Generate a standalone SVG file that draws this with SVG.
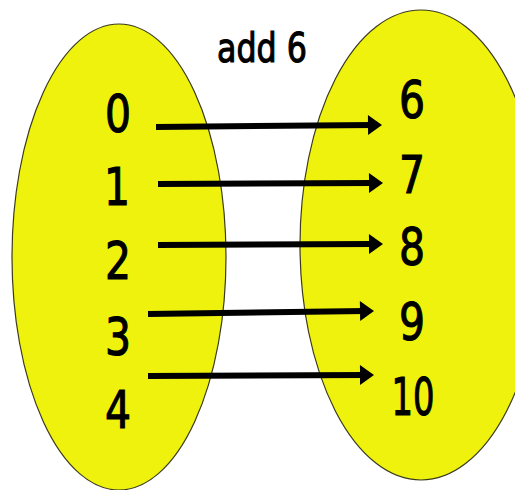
<svg xmlns="http://www.w3.org/2000/svg" width="515" height="490" viewBox="0 0 515 490">
<style>
.set{fill:#eff20c;stroke:#3a3a20;stroke-width:1.2}
.num{font-family:"DejaVu Sans",sans-serif;font-size:52px;fill:#000;stroke:#000;stroke-width:1.2;text-anchor:middle}
.title{font-family:"DejaVu Sans",sans-serif;font-size:40px;fill:#000;stroke:#000;stroke-width:1.2}
.arr{stroke:#000;stroke-width:6;fill:none;marker-end:url(#ah)}
</style>
<defs>
<marker id="ah" markerUnits="userSpaceOnUse" markerWidth="14" markerHeight="20" refX="5" refY="10" orient="auto" overflow="visible">
<path d="M0,0 L14,10 L0,20 z" fill="#000"/>
</marker>
</defs>
<rect width="515" height="490" fill="#fff"/>
<g id="domain">
<ellipse class="set" cx="119" cy="257" rx="107" ry="233"/>
</g>
<g id="range">
<ellipse class="set" cx="421" cy="245" rx="121" ry="235"/>
</g>
<g id="title"><text class="title" x="217" y="62" textLength="90" lengthAdjust="spacingAndGlyphs">add 6</text></g>
<g id="n0"><text class="num" x="118" y="132" textLength="26" lengthAdjust="spacingAndGlyphs">0</text></g>
<g id="n1"><text class="num" x="117" y="205" textLength="26" lengthAdjust="spacingAndGlyphs">1</text></g>
<g id="n2"><text class="num" x="118" y="279" textLength="26" lengthAdjust="spacingAndGlyphs">2</text></g>
<g id="n3"><text class="num" x="118" y="355" textLength="26" lengthAdjust="spacingAndGlyphs">3</text></g>
<g id="n4"><text class="num" x="118" y="428" textLength="26" lengthAdjust="spacingAndGlyphs">4</text></g>
<g id="n6"><text class="num" x="412" y="118" textLength="26" lengthAdjust="spacingAndGlyphs">6</text></g>
<g id="n7"><text class="num" x="412" y="193" textLength="26" lengthAdjust="spacingAndGlyphs">7</text></g>
<g id="n8"><text class="num" x="412" y="265" textLength="26" lengthAdjust="spacingAndGlyphs">8</text></g>
<g id="n9"><text class="num" x="412" y="340" textLength="26" lengthAdjust="spacingAndGlyphs">9</text></g>
<g id="n10"><text class="num" x="413" y="415" textLength="43" lengthAdjust="spacingAndGlyphs">10</text></g>
<g id="connectors">
<line class="arr" x1="156" y1="127" x2="373" y2="125"/>
<line class="arr" x1="158" y1="184" x2="374" y2="183"/>
<line class="arr" x1="158" y1="245" x2="374" y2="244"/>
<line class="arr" x1="148" y1="314" x2="365" y2="311"/>
<line class="arr" x1="148" y1="376" x2="365" y2="375"/>
</g>
</svg>
